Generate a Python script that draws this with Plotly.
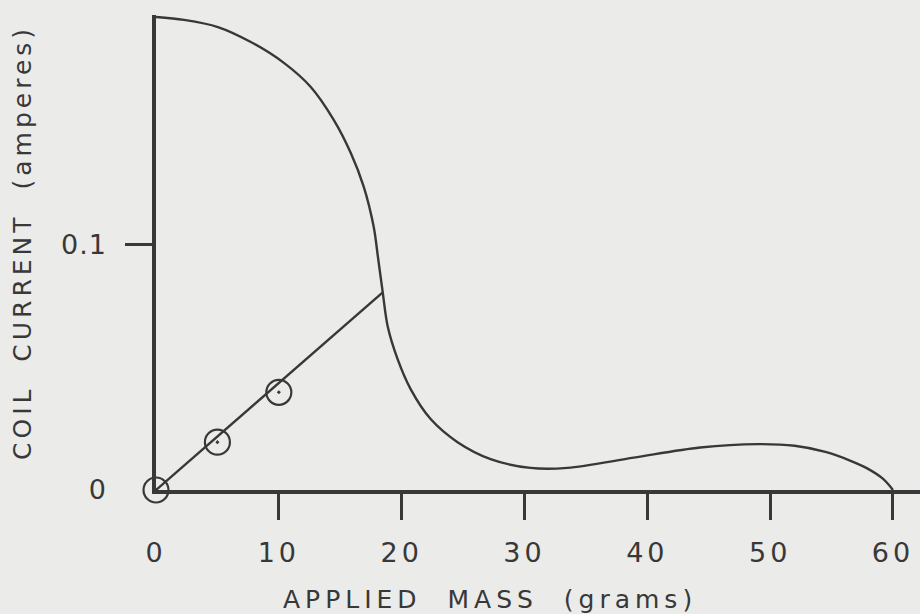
import plotly.graph_objects as go

# Data
curve_mass = [0.0, 2.28, 5.04, 7.72, 10.41, 12.60, 14.47, 15.85, 16.91, 17.72, 18.08, 18.46,
              18.86, 19.67, 20.73, 22.36, 24.55, 27.24, 30.49, 33.5, 38.9, 44.3, 49.0,
              52.0, 54.5, 56.5, 57.9, 59.2, 60.0]
curve_current = [0.1927, 0.1915, 0.1886, 0.1825, 0.1740, 0.1642, 0.1508, 0.1374, 0.1236,
                 0.1073, 0.0945, 0.0805, 0.0667, 0.0533, 0.0411, 0.0289, 0.0195, 0.0126,
                 0.0090, 0.0090, 0.0132, 0.0173, 0.0187, 0.0180, 0.0155, 0.0120, 0.0088,
                 0.0045, 0.0]

fit_mass = [0.0, 18.46]
fit_current = [0.0, 0.0805]

point_mass = [0.0, 5.0, 10.0]
point_current = [0.0, 0.0195, 0.0398]

x_tick_vals = [0, 10, 20, 30, 40, 50, 60]
x_tick_text = ["0", "10", "20", "30", "40", "50", "60"]
x_tick_marks = [10, 20, 30, 40, 50, 60]
y_tick_vals = [0, 0.1]
y_tick_text = ["0", "0.1"]
y_tick_marks = [0.1]

INK = "#383838"
BG = "#ebebea"
FONT = "DejaVu Sans"


def spaced(s, px):
    return '<span style="letter-spacing:%dpx">%s</span>' % (px, s)


fig = go.Figure()
fig.add_trace(go.Scatter(x=curve_mass, y=curve_current, mode="lines",
                         line=dict(color=INK, width=2.4, shape="spline", smoothing=0.9),
                         hoverinfo="skip", showlegend=False))
fig.add_trace(go.Scatter(x=fit_mass, y=fit_current, mode="lines",
                         line=dict(color=INK, width=2.4),
                         hoverinfo="skip", showlegend=False))
fig.add_trace(go.Scatter(x=point_mass, y=point_current, mode="markers",
                         marker=dict(symbol="circle-dot", size=25, color="rgba(0,0,0,0)",
                                     line=dict(color=INK, width=2.2)),
                         cliponaxis=False, hoverinfo="skip", showlegend=False))
# empty trace so the label-only overlay axes get drawn
fig.add_trace(go.Scatter(x=[], y=[], xaxis="x2", yaxis="y2", mode="markers",
                         hoverinfo="skip", showlegend=False))

fig.update_layout(
    width=920, height=614,
    margin=dict(l=156, r=0, t=15, b=124),
    paper_bgcolor=BG, plot_bgcolor=BG,
    font=dict(family=FONT, size=25, color=INK),
    xaxis=dict(range=[0, 62.2], showgrid=False, zeroline=False,
               showline=True, linecolor=INK, linewidth=4,
               tickmode="array", tickvals=x_tick_marks, ticks="outside",
               ticklen=26, tickwidth=3, tickcolor=INK, showticklabels=False),
    xaxis2=dict(range=[0, 62.2], overlaying="x", anchor="y2", side="bottom",
                showgrid=False, zeroline=False, showline=False,
                tickmode="array", tickvals=x_tick_vals,
                ticktext=[spaced(t, 4) for t in x_tick_text],
                ticks="", ticklabelstandoff=44,
                tickfont=dict(family=FONT, size=27, color=INK)),
    yaxis=dict(range=[0, 0.1935], showgrid=False, zeroline=False,
               showline=True, linecolor=INK, linewidth=4,
               tickmode="array", tickvals=y_tick_marks, ticks="outside",
               ticklen=27, tickwidth=3, tickcolor=INK, showticklabels=False),
    yaxis2=dict(range=[0, 0.1935], overlaying="y", anchor="x2", side="left",
                showgrid=False, zeroline=False, showline=False,
                tickmode="array", tickvals=y_tick_vals,
                ticktext=[spaced(t, 1) for t in y_tick_text],
                ticks="", ticklabelstandoff=48,
                tickfont=dict(family=FONT, size=27, color=INK)),
    annotations=[
        dict(text=spaced("APPLIED  MASS  (grams)", 5), xref="paper", yref="paper",
             x=(490 - 156) / 764, y=-(599 - 490) / 475, xanchor="center", yanchor="middle",
             showarrow=False, font=dict(family=FONT, size=25, color=INK)),
        dict(text=spaced("COIL  CURRENT  (amperes)", 4), xref="paper", yref="paper",
             x=-(156 - 22) / 764, y=(490 - 243) / 475, xanchor="center", yanchor="middle",
             textangle=-90, showarrow=False, font=dict(family=FONT, size=25, color=INK)),
    ],
)

fig.write_html("out.html", config={"displayModeBar": False},
               post_script="document.body.style.margin='0';")
